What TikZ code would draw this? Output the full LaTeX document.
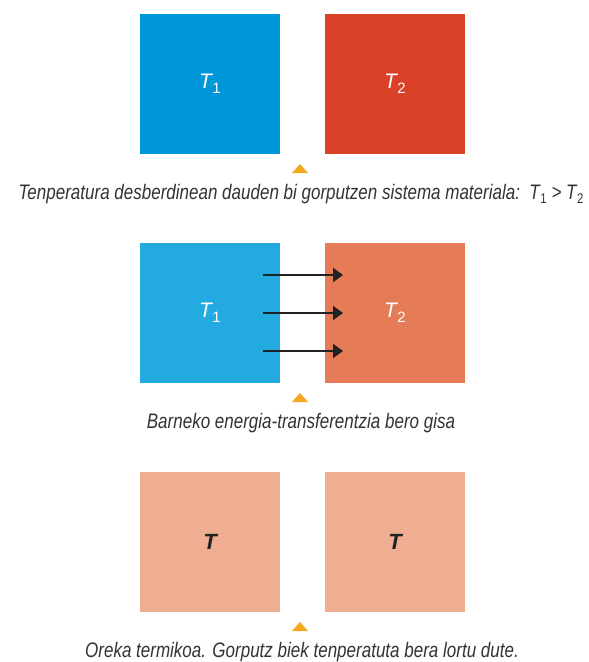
\documentclass[tikz,border=0pt]{standalone}
\usepackage{fontspec}
\setmainfont{Liberation Sans}
\newfontfamily\capfont[FakeStretch=0.81]{Liberation Sans}
\usetikzlibrary{arrows.meta}
\definecolor{blueA}{HTML}{0096DA}
\definecolor{redA}{HTML}{DB4128}
\definecolor{blueB}{HTML}{22AAE1}
\definecolor{orangeB}{HTML}{E57B57}
\definecolor{peach}{HTML}{EFAD92}
\definecolor{tri}{HTML}{F5A71D}
\definecolor{txt}{HTML}{333333}
\definecolor{arr}{HTML}{222222}
\tikzset{
  boxnode/.style={minimum width=140pt, minimum height=140pt, inner sep=0pt, outer sep=0pt, anchor=north west},
  lab/.style={font=\fontsize{21}{23}\selectfont\itshape, inner sep=0pt},
  caption/.style={font=\capfont\fontsize{21}{24}\selectfont\itshape, text=txt, inner sep=0pt},
  marker/.style={fill=tri, draw=none},
  heat/.style={draw=arr, line width=2pt, -{Triangle[length=10pt,width=14pt]}}
}
\newcommand{\Tsub}[1]{\textit{T}\kern0.5pt{\upshape\raisebox{-0.25em}{\fontsize{15}{15}\selectfont #1}}}
\newcommand{\Tcap}[1]{\textit{T}\kern0.5pt{\upshape\raisebox{-0.2em}{\fontsize{14}{14}\selectfont #1}}}
\begin{document}
\begin{tikzpicture}[x=1pt,y=-1pt]
\useasboundingbox (0,0) rectangle (589,662);
% row 1
\node[boxnode, fill=blueA] (a1) at (140,14) {};
\node[boxnode, fill=redA] (b1) at (325,14) {};
\node[lab, text=white] (ta1) at (a1.center) {\Tsub{1}};
\node[lab, text=white] (tb1) at (b1.center) {\Tsub{2}};
\fill[marker] (292,173) -- (308,173) -- (300,164) -- cycle;
\node[caption] (c1) at (301,194) {Tenperatura desberdinean dauden bi gorputzen sistema materiala:\ \ \Tcap{1} > \Tcap{2}};
% row 2
\node[boxnode, fill=blueB] (a2) at (140,243) {};
\node[boxnode, fill=orangeB] (b2) at (325,243) {};
\node[lab, text=white] (ta2) at (a2.center) {\Tsub{1}};
\node[lab, text=white] (tb2) at (b2.center) {\Tsub{2}};
\coordinate (s1) at (263,275); \coordinate (e1) at (343,275);
\coordinate (s2) at (263,313); \coordinate (e2) at (343,313);
\coordinate (s3) at (263,351); \coordinate (e3) at (343,351);
\draw[heat] (s1) -- (e1);
\draw[heat] (s2) -- (e2);
\draw[heat] (s3) -- (e3);
\fill[marker] (292,402) -- (308,402) -- (300,393) -- cycle;
\node[caption] (c2) at (301,423) {Barneko energia-transferentzia bero gisa};
% row 3
\node[boxnode, fill=peach] (a3) at (140,472) {};
\node[boxnode, fill=peach] (b3) at (325,472) {};
\node[lab, text=arr, font=\fontsize{22}{24}\selectfont\bfseries\itshape] (ta3) at (a3.center) {T};
\node[lab, text=arr, font=\fontsize{22}{24}\selectfont\bfseries\itshape] (tb3) at (b3.center) {T};
\fill[marker] (292,631) -- (308,631) -- (300,622) -- cycle;
\node[caption] (c3) at (302,652) {Oreka termikoa. Gorputz biek tenperatuta bera lortu dute.};
\end{tikzpicture}
\end{document}
